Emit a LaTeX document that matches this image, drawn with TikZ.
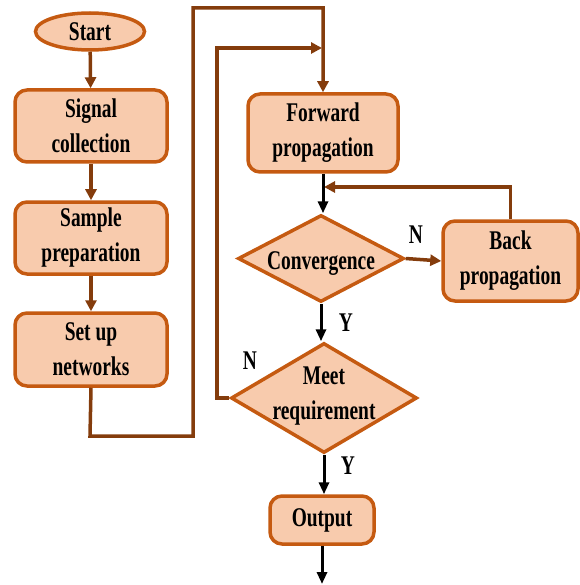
\documentclass[tikz,border=0pt]{standalone}
\usepackage{fontspec}
\setmainfont{Liberation Serif}[FakeStretch=0.72]
\usetikzlibrary{shapes.geometric,arrows.meta}
\definecolor{boxfill}{HTML}{F8CBAD}
\definecolor{boxline}{HTML}{C55A11}
\definecolor{arr}{HTML}{843C0C}
\begin{document}
\begin{tikzpicture}[x=1pt,y=-1pt,
  lab/.style={font=\fontsize{27}{35}\selectfont\bfseries, align=center, inner sep=0pt},
  proc/.style={lab, draw=boxline, fill=boxfill, line width=3.5pt, rounded corners=12pt},
  term/.style={lab, ellipse, draw=boxline, fill=boxfill, line width=3.5pt},
  dec/.style={diamond, draw=boxline, fill=boxfill, line width=3.5pt, inner sep=0pt},
  barrow/.style={draw=arr, line width=3.5pt, -{Triangle[length=11pt,width=11pt]}},
  blarrow/.style={draw=black, line width=3pt, -{Triangle[length=12pt,width=10pt]}},
  yn/.style={font=\fontsize{27}{30}\selectfont\bfseries, inner sep=0pt}
]
\useasboundingbox (0,0) rectangle (579,585);
\node[term, minimum width=109pt, minimum height=37pt] (start) at (90,31.5) {Start};
\node[proc, minimum width=152pt, minimum height=72pt] (signal) at (91,126) {Signal\\collection};
\node[proc, minimum width=152pt, minimum height=72pt] (sample) at (91,238) {Sample\\preparation};
\node[proc, minimum width=152pt, minimum height=73pt] (setup) at (91,349.5) {Set up\\networks};
\node[proc, minimum width=150pt, minimum height=78pt] (forward) at (323,133) {Forward\\propagation};
\node[dec, minimum width=166pt, minimum height=87pt] (conv) at (321,258.5) {};
\node[lab] (convt) at (321,264) {Convergence};
\node[proc, minimum width=135pt, minimum height=80pt] (back) at (510.5,261) {Back\\propagation};
\node[dec, minimum width=186pt, minimum height=110pt] (meet) at (324,398) {};
\node[lab] (meett) at (324,396) {Meet\\requirement};
\node[proc, minimum width=104pt, minimum height=48pt] (output) at (322,520) {Output};

\coordinate (c1) at (90,436);
\coordinate (c2) at (193,8);
\coordinate (c3) at (217,48);
\coordinate (j1) at (322,48);
\coordinate (j2) at (324,187);
\coordinate (endo) at (322,584);

\draw[barrow] (start) -- (signal);
\draw[barrow] (signal) -- (sample);
\draw[barrow] (sample) -- (setup);
\draw[barrow] (setup.south) -- (c1) -| (c2) -| (forward.north);
\draw[barrow] (meet.west) -| (c3) -- (j1);
\draw[barrow] (back.north) |- (j2);
\draw[barrow] (conv.east) -- (back.west);

\draw[blarrow] (forward.south) -- (forward.south |- conv.north);
\draw[blarrow] (conv.south) -- (conv.south |- meet.north);
\draw[blarrow] (meet.south) -- (meet.south |- output.north);
\draw[blarrow] (output.south) -- (endo);

\node[yn] (n1) at (416,235) {N};
\node[yn] (y1) at (346,323) {Y};
\node[yn] (n2) at (250,361) {N};
\node[yn] (y2) at (348,466) {Y};
\end{tikzpicture}
\end{document}
